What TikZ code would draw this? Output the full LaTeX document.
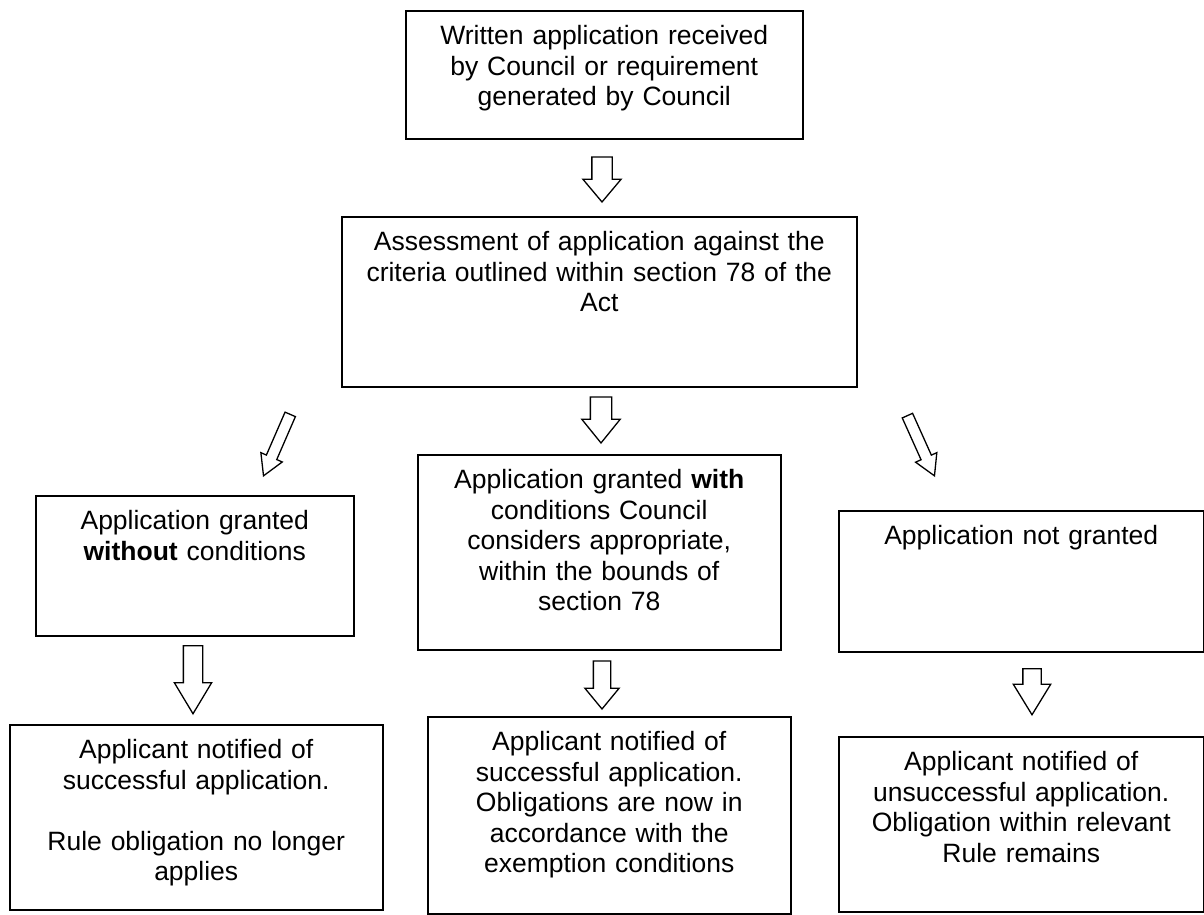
\documentclass[tikz,border=0pt]{standalone}
\usepackage{fontspec}
\setmainfont{Liberation Sans}
\usetikzlibrary{shapes.arrows}

\begin{document}
\begin{tikzpicture}[
    x=1pt, y=-1pt,
    box/.style={rectangle, draw, line width=1.5pt, align=center, inner xsep=5pt, inner ysep=0pt, text height=34pt, anchor=north west, font=\fontsize{26.5}{30.5}\selectfont},
    flow/.style={single arrow, draw, line width=1.3pt, single arrow head indent=0pt, anchor=tip}
]
\useasboundingbox (0,0) rectangle (1204,914);

% boxes
\node[box, minimum width=397pt, text width=387pt, text depth=94pt] (req) at (405,10) {Written application received\\by Council or requirement\\generated by Council};
\node[box, minimum width=515pt, text width=505pt, text depth=136pt] (assess) at (341,216) {Assessment of application against the\\criteria outlined within section 78 of the\\Act};
\node[box, minimum width=318pt, text width=308pt, text depth=106pt] (nocond) at (35,495) {Application granted\\\textbf{without} conditions};
\node[box, minimum width=363pt, text width=353pt, text depth=161pt] (withcond) at (417,454) {Application granted \textbf{with}\\conditions Council\\considers appropriate,\\within the bounds of\\section 78};
\node[box, minimum width=365pt, text width=355pt, text depth=107pt] (refused) at (838,510) {Application not granted};
\node[box, minimum width=373pt, text width=363pt, text depth=151pt] (okfree) at (9,724) {Applicant notified of\\successful application.\\[30.5pt]Rule obligation no longer\\applies};
\node[box, minimum width=363pt, text width=353pt, text depth=163pt] (okcond) at (427,716) {Applicant notified of\\successful application.\\Obligations are now in\\accordance with the\\exemption conditions};
\node[box, minimum width=365pt, text width=355pt, text depth=141pt] (notok) at (838,736) {Applicant notified of\\unsuccessful application.\\Obligation within relevant\\Rule remains};

% block arrows
\node[flow, rotate=-90, minimum height=45pt, inner sep=9.5pt, single arrow head extend=9pt, single arrow tip angle=80] (a1) at (602,203) {};
\node[flow, rotate=-90, minimum height=46pt, inner sep=10pt, single arrow head extend=8.5pt, single arrow tip angle=78] (a2) at (601,444) {};
\node[flow, rotate=-113.5, minimum height=67pt, inner sep=5pt, single arrow head extend=6pt, single arrow tip angle=60] (a3) at (263,477) {};
\node[flow, rotate=-65.8, minimum height=66pt, inner sep=5pt, single arrow head extend=6pt, single arrow tip angle=60] (a4) at (935,477) {};
\node[flow, rotate=-90, minimum height=68pt, inner sep=9pt, single arrow head extend=9pt, single arrow tip angle=62] (a5) at (193,715) {};
\node[flow, rotate=-90, minimum height=48pt, inner sep=8pt, single arrow head extend=8.5pt, single arrow tip angle=79] (a6) at (602,710) {};
\node[flow, rotate=-90, minimum height=46pt, inner sep=8.5pt, single arrow head extend=9.5pt, single arrow tip angle=63] (a7) at (1032,716) {};
\end{tikzpicture}
\end{document}
